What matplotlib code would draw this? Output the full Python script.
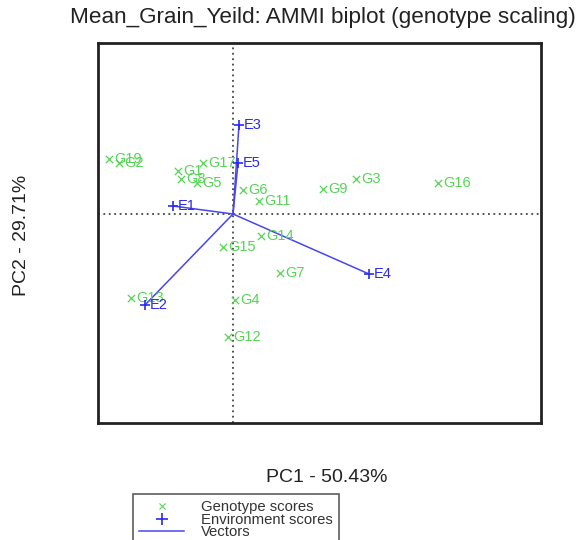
import matplotlib
matplotlib.use("Agg")
import matplotlib.pyplot as plt
from matplotlib.lines import Line2D

plt.rcParams['font.family'] = ['Liberation Sans', 'DejaVu Sans']

# puntajes de genotipos (PC1, PC2)
gen_names = ["G1", "G2", "G3", "G4", "G5", "G6", "G7", "G8", "G9", "G11",
             "G12", "G13", "G14", "G15", "G16", "G17", "G19"]
gen_pc1 = [-0.55, -1.14, 1.23, 0.02, -0.36, 0.10, 0.47, -0.52, 0.90, 0.26,
           -0.05, -1.02, 0.28, -0.10, 2.05, -0.30, -1.24]
gen_pc2 = [0.43, 0.51, 0.35, -0.86, 0.31, 0.24, -0.59, 0.35, 0.25, 0.13,
           -1.23, -0.84, -0.22, -0.33, 0.31, 0.51, 0.55]

# puntajes de ambientes
env_names = ["E1", "E2", "E3", "E4", "E5"]
env_pc1 = [-0.60, -0.88, 0.06, 1.36, 0.05]
env_pc2 = [0.08, -0.91, 0.89, -0.60, 0.51]

green = '#55d455'
blue = '#2a2aee'
vec = '#4646f0'

fig = plt.figure(figsize=(5.79, 5.40), dpi=100)
ax = fig.add_axes([98/579, 1-423/540, 443/579, 380/540])

ax.axvline(0, color='#444444', linestyle=(0, (1, 2)), linewidth=1.3)
ax.axhline(0, color='#444444', linestyle=(0, (1, 2)), linewidth=1.3)

# vectores
for x, y in zip(env_pc1, env_pc2):
    ax.plot([0, x], [0, y], color=vec, linewidth=1.1)

ax.scatter(gen_pc1, gen_pc2, marker='x', color=green, s=28, linewidths=0.9, zorder=3)
for n, x, y in zip(gen_names, gen_pc1, gen_pc2):
    ax.text(x + 0.05, y, n, color=green, fontsize=10.5, va='center', ha='left')

ax.scatter(env_pc1, env_pc2, marker='+', color=blue, s=60, linewidths=1.2, zorder=3)
for n, x, y in zip(env_names, env_pc1, env_pc2):
    ax.text(x + 0.05, y, n, color=blue, fontsize=10.5, va='center', ha='left')

ax.set_xlim(-1.35, 3.08)
ax.set_ylim(-2.09, 1.71)
ax.set_xticks([])
ax.set_yticks([])
for s in ax.spines.values():
    s.set_linewidth(2)
    s.set_color('#222222')

fig.text(323/579, 1-18/540, "Mean_Grain_Yeild: AMMI biplot (genotype scaling)",
         ha='center', va='center', fontsize=16.2, color='#222222')
fig.text(327/579, 1-477/540, "PC1 - 50.43%", ha='center', va='center',
         fontsize=14, color='#222222')
fig.text(22/579, 1-235/540, "PC2 - 29.71%", ha='center', va='center',
         fontsize=14, color='#222222', rotation=90)

handles = [Line2D([], [], marker='x', color=green, linestyle='none', markersize=5, markeredgewidth=0.8),
           Line2D([], [], marker='+', color=blue, linestyle='none', markersize=9, markeredgewidth=1.2),
           Line2D([], [], color=vec, linewidth=1.1)]
leg = fig.legend(handles, ["Genotype scores", "Environment scores", "Vectors"],
                 loc='upper left', bbox_to_anchor=(133/579, 1-494/540),
                 fontsize=10.7, frameon=True, fancybox=False, borderpad=0.42,
                 labelspacing=-0.1, handlelength=3.0, handletextpad=1.15,
                 borderaxespad=0)
leg.get_frame().set_edgecolor('#333333')
leg.get_frame().set_linewidth(1.2)
for t in leg.get_texts():
    t.set_color('#333333')

fig.savefig("out.png", dpi=100)
